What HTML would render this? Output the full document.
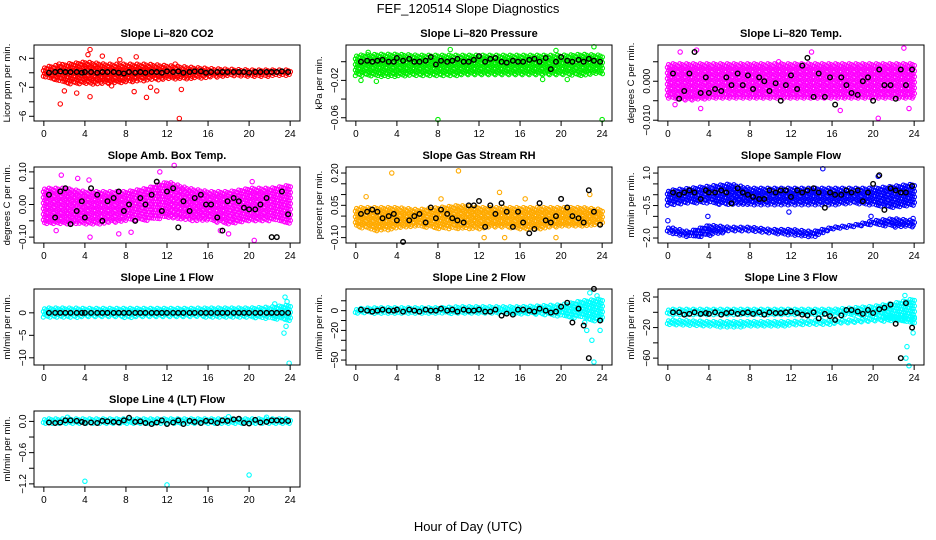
<!DOCTYPE html>
<html><head><meta charset="utf-8"><style>
html,body{margin:0;padding:0;background:#fff;}
svg{display:block;font-family:"Liberation Sans",sans-serif;}
</style></head><body>
<svg id="chart" width="936" height="540" viewBox="0 0 936 540">
<text x="468" y="13" text-anchor="middle" font-size="13">FEF_120514  Slope Diagnostics</text>
<text x="468" y="531" text-anchor="middle" font-size="13">Hour of Day (UTC)</text>
</svg>
<script>
// ---- data ----
const envHours = [0,2,4,6,8,10,12,14,16,18,20,22,24];
const xTicks = [0,4,8,12,16,20,24];
const blackHours = [0.5,1.1,1.6,2.1,2.6,3.2,3.7,4.0,4.6,5.2,5.7,6.2,6.8,7.3,7.8,8.3,8.9,9.4,9.9,10.5,11.0,11.5,12.0,12.6,13.1,13.6,14.2,14.7,15.3,15.8,16.3,16.9,17.4,17.9,18.5,19.0,19.5,20.0,20.6,21.1,21.7,22.2,22.7,23.2,23.8];

const co2Hi = [0.8,1.2,1.5,1.2,1.2,1.2,1.0,0.8,0.6,0.5,0.4,0.4,0.4];
const co2Lo = [-0.7,-1.5,-1.6,-1.6,-1.3,-1.1,-0.9,-0.9,-0.7,-0.5,-0.5,-0.5,-0.4];
const co2OutX = [1.6,4.5,4.3,4.5,3.2,5.7,9,8.8,10,10.4,11,13.2,13.4,2,1.5,7.4,6.6,12.8];
const co2OutY = [-4.3,3.2,2.5,-3.3,-2.8,2.3,2.2,-2.6,-3.4,-2,-2.5,-6.3,-2.3,-2.5,1.2,1.8,-1.8,1.2];
const co2Black = [0,0.1,0.2,0.1,0.1,0.1,0,0.1,0.1,0,0.1,0.1,0.1,0,-0.1,0.1,0,0.1,0,0.1,0.1,0,0.2,0.1,0.2,0,0.1,0.2,0.2,0,0.1,0.1,0.1,0.1,0.1,0.1,0.1,0,0.1,0.1,0.1,0.1,0.1,0.2,0.1];

const prHi = [0.007,0.008,0.008,0.007,0.007,0.007,0.007,0.007,0.007,0.007,0.007,0.008,0.007];
const prLo = [-0.015,-0.016,-0.016,-0.015,-0.015,-0.015,-0.014,-0.015,-0.014,-0.015,-0.014,-0.015,-0.013];
const prOutX = [8,24,2,19.5,23.2,0.5,9.2,18.2,20.6,1.2];
const prOutY = [-0.062,-0.062,-0.021,0.012,0.016,-0.02,0.013,-0.019,-0.019,0.01];
const prBlack = [0,0.001,0,0.001,0.002,0,0,0.004,0.001,0.003,0,0,0.001,0.005,-0.003,0.001,0,0.001,0.003,0,0,0.002,0.006,0,0.003,0.004,0,-0.001,0.001,0,0,0.002,0.003,0,0.004,-0.008,0,0.005,0.001,0,0.002,0,0.003,0.001,0];

const tmHi = [0.0045,0.0045,0.0045,0.0045,0.0045,0.0045,0.0045,0.0045,0.0045,0.0045,0.0045,0.0045,0.0045];
const tmLo = [-0.0045,-0.005,-0.0045,-0.0045,-0.0045,-0.0045,-0.0045,-0.0045,-0.0045,-0.0045,-0.0045,-0.0045,-0.0045];
const tmOutX = [1.2,2.8,14,23,20.5,23.5,3.2,16.8,10.8,0.7];
const tmOutY = [0.0075,0.008,0.0075,0.0085,-0.0095,-0.007,-0.007,-0.0075,0.005,-0.006];
const tmBlack = [0.002,-0.0045,-0.0025,0.002,0.0075,-0.003,0.001,-0.003,-0.002,-0.0025,0.001,-0.001,0.002,-0.001,0.0015,-0.002,0.001,0,-0.0025,-0.0005,-0.005,-0.001,0.0015,-0.002,0.004,0.006,-0.004,0.002,-0.004,0.001,-0.006,0.001,-0.001,-0.003,-0.0035,0,0.001,-0.005,0.003,-0.001,-0.001,-0.0045,0.003,-0.001,0.003];

const abHi = [0.05,0.05,0.04,0.04,0.04,0.05,0.07,0.05,0.04,0.04,0.05,0.05,0.06];
const abLo = [-0.06,-0.06,-0.06,-0.06,-0.05,-0.05,-0.04,-0.05,-0.05,-0.06,-0.05,-0.05,-0.06];
const abOutX = [1.7,4.5,8.5,11.3,12.7,18,20.5,20.3,1.2,4.4,7.3,3.3,17.2];
const abOutY = [0.09,-0.1,-0.085,0.1,0.12,-0.09,-0.11,0.07,-0.08,0.075,-0.09,0.08,-0.08];
const abBlack = [0.03,-0.04,0.04,0.05,-0.06,-0.02,0.01,-0.04,0.05,0.03,-0.05,0.01,0.02,0.04,-0.02,0.0,-0.05,0.02,0.0,0.03,0.07,-0.02,0.04,0.05,-0.07,0.01,-0.02,0.02,0.03,0.0,0.0,-0.04,-0.08,0.01,0.02,0.01,-0.01,-0.015,-0.015,0.0,0.02,-0.1,-0.1,0.04,-0.03];

const rhHi = [0.04,0.04,0.04,0.03,0.04,0.05,0.04,0.04,0.04,0.04,0.04,0.04,0.03];
const rhLo = [-0.05,-0.07,-0.06,-0.05,-0.06,-0.06,-0.06,-0.05,-0.06,-0.06,-0.05,-0.05,-0.04];
const rhOutX = [3.5,10,1,8.3,14,14.5,22.8,12.5,19.5,16.5];
const rhOutY = [0.2,0.21,0.09,0.08,0.11,-0.1,0.1,-0.1,-0.1,0.08];
const rhBlack = [0.01,0.02,0.03,0.02,-0.01,0,0.01,-0.02,-0.12,-0.02,0,0.01,-0.03,0.04,-0.01,0.03,0.01,-0.01,-0.02,-0.03,0.05,0.05,0.07,-0.05,0.05,0.01,0.06,0.02,-0.05,0.02,-0.03,-0.08,-0.06,0.06,-0.02,-0.03,0,0.08,0.04,0,-0.01,-0.03,0.12,0.02,-0.04];

const sfUpHi = [0.2,0.3,0.4,0.5,0.3,0.3,0.3,0.3,0.3,0.3,0.3,0.4,0.5];
const sfUpLo = [-0.5,-0.4,-0.4,-0.5,-0.5,-0.5,-0.5,-0.5,-0.5,-0.4,-0.5,-0.6,-0.5];
const sfDnHi = [-1.5,-1.7,-1.4,-1.5,-1.5,-1.6,-1.6,-1.7,-1.5,-1.4,-1.2,-1.1,-1.2];
const sfDnLo = [-1.8,-2.0,-1.9,-1.7,-1.7,-1.8,-1.9,-2.0,-1.6,-1.5,-1.4,-1.5,-1.5];
const sfOutX = [15.1,20.5,0,3.9,19.8,23.9,11.8];
const sfOutY = [1.2,0.85,-1.2,-1.0,-1.0,-1.1,-0.8];
const sfBlack = [0.1,0,0.1,0.2,0.1,-0.2,0.2,0.1,0.1,0.2,0.1,-0.4,0.3,0.1,0,-0.1,-0.2,-0.2,0.2,0.1,0.2,0.2,-0.1,0.2,0.1,0.2,0.3,0.1,-0.6,0.1,0,0,0.2,0.1,0.2,-0.3,0.1,0.5,0.9,-0.7,0.3,0.2,0.1,0.1,0.4];

const l1Hi = [1.1,1.1,1.0,1.0,1.0,1.0,1.0,1.0,1.1,1.1,1.1,1.3,1.8];
const l1Lo = [-1.0,-1.1,-1.0,-1.0,-1.1,-1.0,-1.0,-1.0,-1.0,-1.1,-1.1,-1.3,-1.8];
const l1OutX = [23.5,23.4,23.6,23.9,23.7,22.5];
const l1OutY = [3.5,-4.5,-3,-11.2,2.5,2];
const l1Black = [0,0,0,0,0,0,0,0,0,0,0,0,0,0,0,0,0,0,0,0,0,0,0,0,0,0,0,0,0,0,0,0,0,0,0,0,0,0,0,0,0,0,0,0,0];

const l2Hi = [2,3,3,3,3,4,4,4,4,5,6,10,12];
const l2Lo = [-3,-3,-3,-3,-3,-3,-3,-3,-4,-4,-6,-8,-12];
const l2OutX = [22.8,23.5,23,22.5,23.2,23.8,22.3];
const l2OutY = [18,15,-30,-20,-52,-20,-12];
const l2Black = [1,0,-1,0,1,0,0,1,-1,1,0,-1,1,0,0,2,0,1,-1,1,0,0,1,-1,-1,1,-5,-3,-4,1,1,0,-1,2,0,-2,-1,4,8,-12,2,-15,-48,22,-10];

const l3UpHi = [4,4,4,4,4,4,4,4,4,6,8,12,18];
const l3UpLo = [-4,-4,-4,-4,-4,-4,-4,-4,-4,-4,-6,-10,-14];
const l3DnHi = [-10,-11,-12,-12,-12,-12,-12,-11,-11,-10,-8,-6,-6];
const l3DnLo = [-17,-18,-19,-20,-19,-19,-18,-17,-16,-14,-12,-12,-12];
const l3OutX = [23.1,23.3,23.5,23.9,23.2];
const l3OutY = [22,-45,-70,-27,-60];
const l3Black = [0,0,-3,-2,0,-2,-1,-2,0,-3,-1,0,-2,-1,0,-2,0,-3,0,-1,-1,0,1,-1,-3,-4,0,-8,-2,-5,-10,-4,3,3,1,-2,3,-1,4,6,10,-15,-60,12,-20];

const l4Hi = [0.05,0.05,0.05,0.05,0.05,0.05,0.05,0.05,0.05,0.05,0.05,0.05,0.05];
const l4Lo = [-0.04,-0.05,-0.05,-0.05,-0.05,-0.05,-0.05,-0.05,-0.05,-0.05,-0.05,-0.05,-0.05];
const l4OutX = [4,12,20,2.3,18,21.7];
const l4OutY = [-1.15,-1.22,-1.03,0.08,0.09,0.08];
const l4Black = [-0.02,-0.03,-0.02,0.02,0.02,0.01,-0.01,-0.03,-0.02,-0.03,0.01,0,-0.01,-0.02,0.02,0.07,-0.01,0,-0.03,-0.05,-0.02,0.02,-0.05,-0.02,0.02,-0.05,0.01,-0.01,-0.03,0.01,0,-0.03,0.02,0.01,0.04,0.05,-0.03,-0.04,0.03,-0.02,-0.01,0.02,0.02,0.01,0.01];

// ---- panels ----
const panels = [
 {name:'co2',title:'Slope Li\u2013820 CO2',ylab:'Licor ppm per min.',col:0,row:0,ymin:-6.65,ymax:3.83,ticks:[2,0,-2,-4,-6],labels:[2,-2,-6],color:'#ff0000',bands:[[co2Hi,co2Lo]],ox:co2OutX,oy:co2OutY,black:co2Black},
 {name:'pressure',title:'Slope Li\u2013820 Pressure',ylab:'kPa per min.',col:1,row:0,ymin:-0.0635,ymax:0.0179,ticks:[0,-0.02,-0.04,-0.06],labels:['-0.02','-0.06'],color:'#00ee00',bands:[[prHi,prLo]],ox:prOutX,oy:prOutY,black:prBlack},
 {name:'temp',title:'Slope Li\u2013820 Temp.',ylab:'degrees C per min.',col:2,row:0,ymin:-0.0102,ymax:0.0093,ticks:[0.005,0,-0.005,-0.01],labels:['0.000','-0.010'],color:'#ff00ff',bands:[[tmHi,tmLo]],ox:tmOutX,oy:tmOutY,black:tmBlack},
 {name:'amb-box-temp',title:'Slope Amb. Box Temp.',ylab:'degrees C per min.',col:0,row:1,ymin:-0.118,ymax:0.115,ticks:[0.1,0.05,0,-0.05,-0.1],labels:['0.10','0.00','-0.10'],color:'#ff00ff',bands:[[abHi,abLo]],ox:abOutX,oy:abOutY,black:abBlack},
 {name:'gas-stream-rh',title:'Slope Gas Stream RH',ylab:'percent per min.',col:1,row:1,ymin:-0.125,ymax:0.228,ticks:[0.2,0.15,0.1,0.05,0,-0.05,-0.1],labels:['0.20','0.05','-0.10'],color:'#ffaa00',bands:[[rhHi,rhLo]],ox:rhOutX,oy:rhOutY,black:rhBlack},
 {name:'sample-flow',title:'Slope Sample Flow',ylab:'ml/min per min.',col:2,row:1,ymin:-2.23,ymax:1.28,ticks:[1,0.5,0,-0.5,-1,-1.5,-2],labels:['1.0','-0.5','-2.0'],color:'#0000ff',bands:[[sfUpHi,sfUpLo],[sfDnHi,sfDnLo]],ox:sfOutX,oy:sfOutY,black:sfBlack},
 {name:'line1-flow',title:'Slope Line 1 Flow',ylab:'ml/min per min.',col:0,row:2,ymin:-11.6,ymax:5.3,ticks:[0,-5,-10],labels:[0,-5,-10],color:'#00ffff',bands:[[l1Hi,l1Lo]],ox:l1OutX,oy:l1OutY,black:l1Black},
 {name:'line2-flow',title:'Slope Line 2 Flow',ylab:'ml/min per min.',col:1,row:2,ymin:-55,ymax:21.9,ticks:[10,0,-10,-20,-30,-40,-50],labels:[0,-20,-50],color:'#00ffff',bands:[[l2Hi,l2Lo]],ox:l2OutX,oy:l2OutY,black:l2Black},
 {name:'line3-flow',title:'Slope Line 3 Flow',ylab:'ml/min per min.',col:2,row:2,ymin:-69,ymax:30.5,ticks:[20,0,-20,-40,-60],labels:[20,-20,-60],color:'#00ffff',bands:[[l3UpHi,l3UpLo],[l3DnHi,l3DnLo]],ox:l3OutX,oy:l3OutY,black:l3Black},
 {name:'line4-flow',title:'Slope Line 4 (LT) Flow',ylab:'ml/min per min.',col:0,row:3,ymin:-1.26,ymax:0.2,ticks:[0,-0.3,-0.6,-0.9,-1.2],labels:['0.0','-0.6','-1.2'],color:'#00ffff',bands:[[l4Hi,l4Lo]],ox:l4OutX,oy:l4OutY,black:l4Black}
];

const NS='http://www.w3.org/2000/svg';
const svg=document.getElementById('chart');
function mk(tag,attrs,parent){const e=document.createElementNS(NS,tag);for(const k in attrs)e.setAttribute(k,attrs[k]);parent.appendChild(e);return e;}
function interp(arr,h){const i=Math.min(Math.floor(h/2),11);const t=(h-envHours[i])/2;return arr[i]+(arr[i+1]-arr[i])*t;}

panels.forEach(p=>{
  const x0=34+p.col*312, w=266, y0=45+p.row*122, hgt=76;
  const sx=h=>x0+(h+0.96)*w/25.92;
  const sy=v=>y0+(p.ymax-v)/(p.ymax-p.ymin)*hgt;
  const g=mk('g',{},svg);
  
  
  const t=mk('text',{x:x0+w/2,y:y0-8,'text-anchor':'middle','font-size':'11','font-weight':'bold'},g);
  t.textContent=p.title;
  
  
  const yl=mk('text',{x:0,y:0,'text-anchor':'middle','font-size':'9.5',transform:`translate(${x0-24},${y0+hgt/2}) rotate(-90)`},g);
  yl.textContent=p.ylab;
  
  
  const pts=mk('g',{fill:'none',stroke:p.color,'stroke-width':'1.1'},g);
  
  
  p.bands.forEach(b=>{
    let k=0;
    for(let h=0;h<=24.001;h+=0.22){
      const yt=sy(interp(b[0],h)), yb=sy(interp(b[1],h));
      k++;
      let r=0;
      for(let y=yt+(k%3)*0.9;y<=yb;y+=2.8){
        r++;
        mk('circle',{cx:(sx(h)+((r%2)?0.6:-0.6)).toFixed(1),cy:y.toFixed(1),r:'2'},pts);
      }
    }
  });
  p.ox.forEach((h,i)=>{
    const c=mk('circle',{cx:sx(h),cy:sy(p.oy[i]),r:'2.2'},pts);
    
    
  });
  const bk=mk('g',{fill:'none',stroke:'#000','stroke-width':'1.4'},g);
  
  
  p.black.forEach((v,i)=>{
    const c=mk('circle',{cx:sx(blackHours[i]),cy:sy(v),r:'2.3'},bk);
    
    
  });
  const box=mk('rect',{x:x0,y:y0,width:w,height:hgt,fill:'none',stroke:'#000','stroke-width':'1'},g);
  
  
  xTicks.forEach(v=>{
    mk('line',{x1:sx(v),x2:sx(v),y1:y0+hgt,y2:y0+hgt+5,stroke:'#000'},g);
    const tl=mk('text',{x:sx(v),y:y0+hgt+16,'text-anchor':'middle','font-size':'10'},g);
    tl.textContent=v;
    
    
  });
  p.ticks.forEach(v=>{mk('line',{x1:x0-5,x2:x0,y1:sy(v),y2:sy(v),stroke:'#000'},g);});
  p.labels.forEach(v=>{
    const yv=sy(parseFloat(v));
    const tl=mk('text',{x:0,y:0,'text-anchor':'middle','font-size':'10',transform:`translate(${x0-8},${yv}) rotate(-90)`},g);
    tl.textContent=String(v).replace('-','\u2212');
    
    
  });
});
</script>
</body></html>
